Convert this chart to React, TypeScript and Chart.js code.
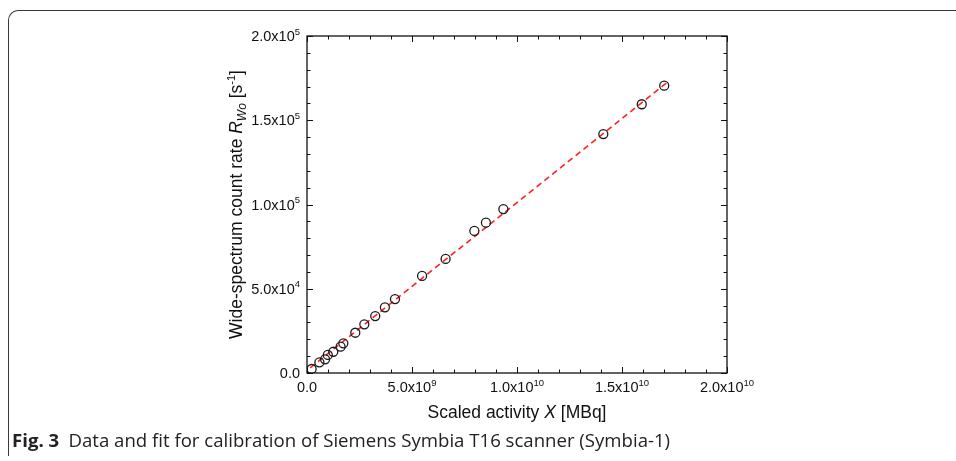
import React, { useEffect, useRef } from "react";
import { Chart, registerables } from "chart.js";
Chart.register(...registerables);

// Scaled activity X [MBq]
const activityMBq = [
  2.2e8, 5.9e8, 8.6e8, 9.9e8, 1.25e9, 1.6e9, 1.73e9, 2.3e9, 2.73e9, 3.25e9,
  3.71e9, 4.19e9, 5.48e9, 6.6e9, 7.97e9, 8.52e9, 9.35e9, 1.411e10, 1.594e10, 1.701e10,
];
// Wide-spectrum count rate R_Wo [s^-1]
const countRate = [
  2.37e3, 6.35e3, 8.1e3, 1.07e4, 1.26e4, 1.56e4, 1.76e4, 2.39e4, 2.89e4, 3.38e4,
  3.9e4, 4.39e4, 5.76e4, 6.77e4, 8.43e4, 8.92e4, 9.73e4, 1.418e5, 1.595e5, 1.705e5,
];
// Linear fit line end points
const fitX = [1.5e8, 1.72e10];
const fitY = [3.0e3, 1.73e5];

// Tick labels: [value, mantissa, exponent]
const xTickLabels: [number, string, string][] = [
  [0, "0.0", ""],
  [5e9, "5.0x10", "9"],
  [1e10, "1.0x10", "10"],
  [1.5e10, "1.5x10", "10"],
  [2e10, "2.0x10", "10"],
];
const yTickLabels: [number, string, string][] = [
  [0, "0.0", ""],
  [5e4, "5.0x10", "4"],
  [1e5, "1.0x10", "5"],
  [1.5e5, "1.5x10", "5"],
  [2e5, "2.0x10", "5"],
];

const W = 956;
const H = 461;
const FAM = '"Liberation Sans", Arial, Helvetica, sans-serif';

type Part = { t: string; size: number; italic?: boolean; dy?: number };

function drawParts(
  ctx: CanvasRenderingContext2D,
  parts: Part[],
  x: number,
  y: number,
  align: "left" | "center" | "right"
) {
  let total = 0;
  const widths = parts.map((p) => {
    ctx.font = `${p.italic ? "italic " : ""}${p.size}px ${FAM}`;
    const w = ctx.measureText(p.t).width;
    total += w;
    return w;
  });
  let cx = align === "left" ? x : align === "center" ? x - total / 2 : x - total;
  ctx.textAlign = "left";
  ctx.textBaseline = "alphabetic";
  parts.forEach((p, i) => {
    ctx.font = `${p.italic ? "italic " : ""}${p.size}px ${FAM}`;
    ctx.fillText(p.t, cx, y + (p.dy || 0));
    cx += widths[i];
  });
}

const framePlugin = {
  id: "originFrame",
  afterDraw(chart: any) {
    const ctx: CanvasRenderingContext2D = chart.ctx;
    const xs = chart.scales.x;
    const ys = chart.scales.y;
    const { left, right, top, bottom } = chart.chartArea;
    ctx.save();
    ctx.strokeStyle = "#111";
    ctx.fillStyle = "#111";
    ctx.lineWidth = 1.3;
    ctx.strokeRect(left, top, right - left, bottom - top);

    ctx.lineWidth = 1;
    ctx.beginPath();
    for (let v = 0; v <= 2e10 + 1; v += 1e9) {
      const px = Math.round(xs.getPixelForValue(v)) + 0.5;
      const major = Math.round(v / 1e9) % 5 === 0;
      const len = major ? 6 : 3.5;
      ctx.moveTo(px, bottom);
      ctx.lineTo(px, bottom - len);
      ctx.moveTo(px, top);
      ctx.lineTo(px, top + len);
    }
    for (let v = 0; v <= 2e5 + 1; v += 1e4) {
      const py = Math.round(ys.getPixelForValue(v)) + 0.5;
      const major = Math.round(v / 1e4) % 5 === 0;
      const len = major ? 6 : 3.5;
      ctx.moveTo(left, py);
      ctx.lineTo(left + len, py);
      ctx.moveTo(right, py);
      ctx.lineTo(right - len, py);
    }
    ctx.stroke();

    ctx.fillStyle = "#111";
    for (const [v, m, e] of yTickLabels) {
      const py = ys.getPixelForValue(v);
      const parts: Part[] = [{ t: m, size: 14.5 }];
      if (e) parts.push({ t: e, size: 9.5, dy: -6.5 });
      drawParts(ctx, parts, left - 7, py + 5, "right");
    }
    for (const [v, m, e] of xTickLabels) {
      const px = xs.getPixelForValue(v);
      const parts: Part[] = [{ t: m, size: 14.5 }];
      if (e) parts.push({ t: e, size: 9.5, dy: -6.5 });
      drawParts(ctx, parts, px, bottom + 19, "center");
    }

    // x title
    drawParts(
      ctx,
      [
        { t: "Scaled activity ", size: 17.5 },
        { t: "X", size: 17.5, italic: true },
        { t: " [MBq]", size: 17.5 },
      ],
      (left + right) / 2,
      bottom + 45,
      "center"
    );

    // y title
    ctx.translate(left - 65, (top + bottom) / 2);
    ctx.rotate(-Math.PI / 2);
    drawParts(
      ctx,
      [
        { t: "Wide-spectrum count rate ", size: 17.5 },
        { t: "R", size: 17.5, italic: true },
        { t: "Wo", size: 12, italic: true, dy: 3.5 },
        { t: " [s", size: 17.5 },
        { t: "-1", size: 11, dy: -7.5 },
        { t: "]", size: 17.5 },
      ],
      0,
      0,
      "center"
    );
    ctx.restore();
  },
};

export default function App() {
  const ref = useRef<HTMLCanvasElement | null>(null);

  useEffect(() => {
    if (!ref.current) return;
    const chart = new Chart(ref.current, {
      type: "scatter",
      data: {
        datasets: [
          {
            label: "Fit",
            type: "line",
            data: fitX.map((x, i) => ({ x, y: fitY[i] })),
            borderColor: "#ff2020",
            borderWidth: 1.6,
            borderDash: [6, 4],
            pointRadius: 0,
            fill: false,
            order: 2,
          } as any,
          {
            label: "Data",
            data: activityMBq.map((x, i) => ({ x, y: countRate[i] })),
            pointStyle: "circle",
            pointRadius: 4.5,
            borderWidth: 1.3,
            borderColor: "#1a1a1a",
            backgroundColor: "rgba(0,0,0,0)",
            order: 1,
          },
        ],
      },
      options: {
        responsive: false,
        animation: false,
        devicePixelRatio: 1,
        layout: { padding: { left: 0, top: 36, right: W - 727, bottom: 0 } },
        plugins: {
          legend: { display: false },
          tooltip: { enabled: false },
          title: { display: false },
        },
        scales: {
          x: {
            type: "linear",
            min: 0,
            max: 2e10,
            grid: { display: false },
            border: { display: false },
            ticks: { display: false },
            afterFit: (s: any) => {
              s.height = H - 373;
            },
          },
          y: {
            type: "linear",
            min: 0,
            max: 2e5,
            grid: { display: false },
            border: { display: false },
            ticks: { display: false },
            afterFit: (s: any) => {
              s.width = 307;
            },
          },
        },
      },
      plugins: [framePlugin],
    });
    return () => chart.destroy();
  }, []);

  return (
    <div
      style={{
        position: "absolute",
        left: 0,
        top: 0,
        width: W,
        height: H,
        background: "#fff",
        overflow: "hidden",
      }}
    >
      <canvas
        ref={ref}
        width={W}
        height={H}
        style={{ position: "absolute", left: 0, top: 0, width: W, height: H }}
      />
      <div
        style={{
          position: "absolute",
          left: 8,
          top: 10,
          width: W,
          height: 446,
          borderTop: "1.5px solid #3a3a3a",
          borderLeft: "1.5px solid #3a3a3a",
          borderTopLeftRadius: 10,
          boxSizing: "border-box",
          pointerEvents: "none",
        }}
      />
      <div
        style={{
          position: "absolute",
          left: 12,
          top: 429,
          fontFamily: '"Open Sans", "Noto Sans", sans-serif',
          fontSize: 18.6,
          lineHeight: "22px",
          color: "#222",
          whiteSpace: "nowrap",
        }}
      >
        <span style={{ fontWeight: 700 }}>Fig. 3</span>
        <span>{"\u2002"}Data and fit for calibration of Siemens Symbia T16 scanner (Symbia-1)</span>
      </div>
    </div>
  );
}
